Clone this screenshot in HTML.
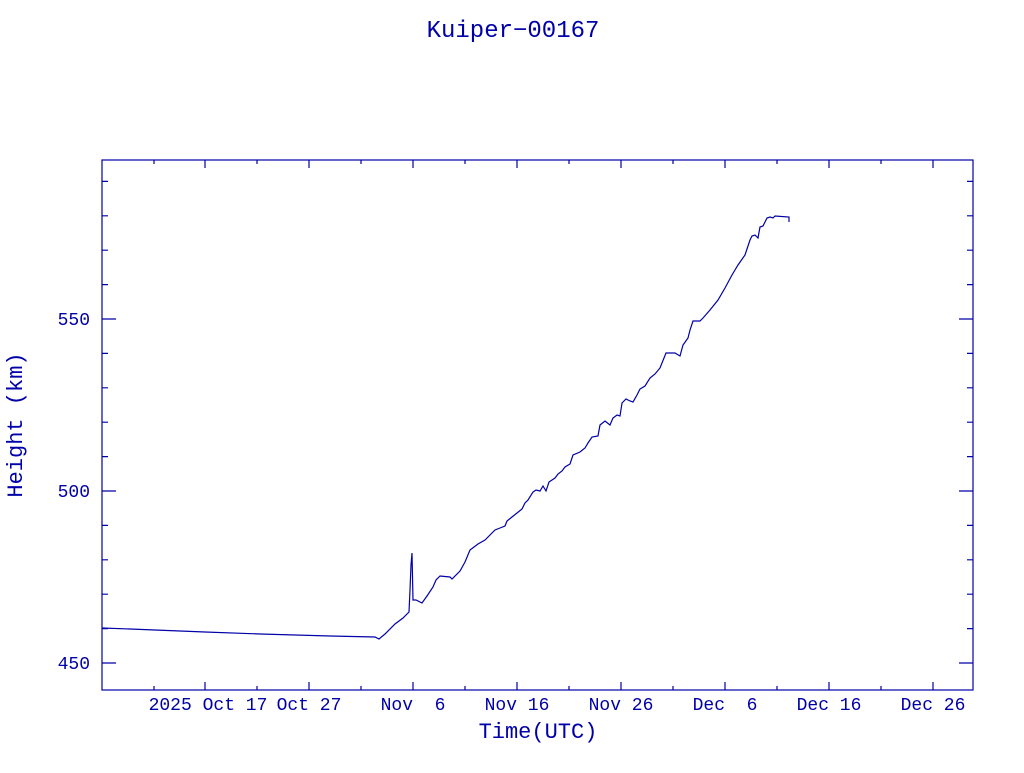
<!DOCTYPE html>
<html><head><meta charset="utf-8"><style>
html,body{margin:0;padding:0;background:#fff;}
svg text{font-family:"Liberation Mono",monospace;fill:#0000a8;}
</style></head><body>
<svg width="1024" height="768" viewBox="0 0 1024 768" xmlns="http://www.w3.org/2000/svg">
<rect width="1024" height="768" fill="#fff"/>
<text x="513" y="37" font-size="24" text-anchor="middle">Kuiper−00167</text>
<rect x="102" y="160" width="871" height="530" fill="none" stroke="#0000a8" stroke-width="1.2"/>
<g stroke="#0000a8" stroke-width="1.2">
<path d="M154 690v-4M205 690v-8M257 690v-4M309 690v-8M361 690v-4M413 690v-8M465 690v-4M517 690v-8M569 690v-4M621 690v-8M673 690v-4M725 690v-8M777 690v-4M829 690v-8M881 690v-4M933 690v-8"/>
<path d="M154 160v4M205 160v8M257 160v4M309 160v8M361 160v4M413 160v8M465 160v4M517 160v8M569 160v4M621 160v8M673 160v4M725 160v8M777 160v4M829 160v8M881 160v4M933 160v8"/>
<path d="M102 663h14M102 491h14M102 319h14M973 663h-14M973 491h-14M973 319h-14"/>
<path d="M102 628.6h6M102 594.2h6M102 559.8h6M102 525.4h6M102 456.6h6M102 422.2h6M102 387.8h6M102 353.4h6M102 284.6h6M102 250.2h6M102 215.8h6M102 181.4h6"/>
<path d="M973 628.6h-6M973 594.2h-6M973 559.8h-6M973 525.4h-6M973 456.6h-6M973 422.2h-6M973 387.8h-6M973 353.4h-6M973 284.6h-6M973 250.2h-6M973 215.8h-6M973 181.4h-6"/>
</g>
<g font-size="18" text-anchor="end">
<text x="90" y="669">450</text>
<text x="90" y="497">500</text>
<text x="90" y="325">550</text>
</g>
<g font-size="18" text-anchor="middle">
<text x="208" y="710">2025 Oct 17</text>
<text x="309" y="710">Oct 27</text>
<text x="413" y="710">Nov&#160;&#160;6</text>
<text x="517" y="710">Nov 16</text>
<text x="621" y="710">Nov 26</text>
<text x="725" y="710">Dec&#160;&#160;6</text>
<text x="829" y="710">Dec 16</text>
<text x="933" y="710">Dec 26</text>
</g>
<text x="538" y="738" font-size="22" text-anchor="middle">Time(UTC)</text>
<text transform="translate(22,425) rotate(-90)" font-size="22" text-anchor="middle">Height (km)</text>
<polyline fill="none" stroke="#0000a8" stroke-width="1.2" points="102,628 130,629 155,630 205,632 260,634 330,636 375,637 379,639 385,634 395,624 403,618 409,612 410,590 411,565 412,553 413,600 416,600 422,603 427,596 433,587 436,580 440,576 450,577 452,579 460,571 465,562 470,550 478,544 485,540 490,535 495,530 500,528 505,526 507,521 512,517 517,513 522,509 525,503 528,500 533,492 536,490 540,491 543,486 546,491 549,482 555,478 558,474 562,471 565,467 570,464 573,455 580,452 585,448 588,443 592,437 598,436 600,425 605,421 610,425 613,418 617,415 620,416 622,403 626,399 630,401 633,402 637,395 640,389 645,386 650,378 655,374 660,368 666,353 675,353 680,356 683,345 688,338 690,330 693,321 700,321 703,318 710,310 718,300 725,288 732,275 738,265 745,255 750,240 752,236 755,235 758,238 760,227 763,226 767,218 770,217 773,218 775,216 789,217 789,222"/>
</svg>
</body></html>
